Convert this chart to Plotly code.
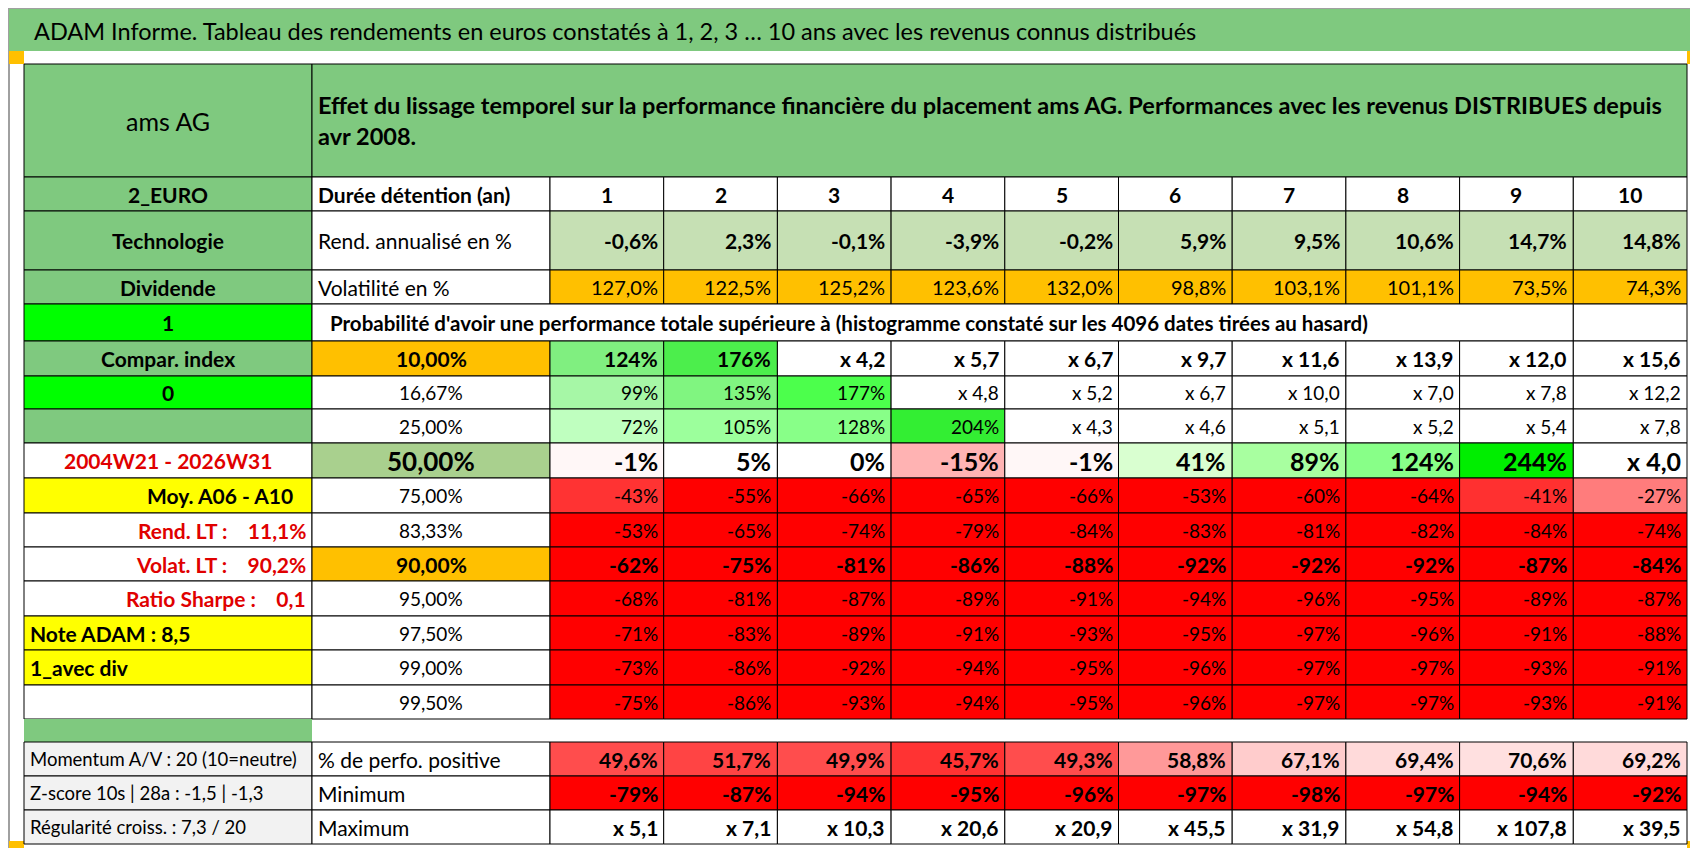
import plotly.graph_objects as go

title = "ADAM Informe. Tableau des rendements en euros constatés à 1, 2, 3 … 10 ans avec les revenus connus distribués"
header = "Effet du lissage temporel sur la performance financière du placement ams AG. Performances avec les revenus DISTRIBUES depuis<br>avr 2008."
years = ["1", "2", "3", "4", "5", "6", "7", "8", "9", "10"]
rend = ["-0,6%", "2,3%", "-0,1%", "-3,9%", "-0,2%", "5,9%", "9,5%", "10,6%", "14,7%", "14,8%"]
vol = ["127,0%", "122,5%", "125,2%", "123,6%", "132,0%", "98,8%", "103,1%", "101,1%", "73,5%", "74,3%"]
levels = ["10,00%", "16,67%", "25,00%", "50,00%", "75,00%", "83,33%", "90,00%", "95,00%", "97,50%", "99,00%", "99,50%"]
quant = [
    ["124%", "176%", "x 4,2", "x 5,7", "x 6,7", "x 9,7", "x 11,6", "x 13,9", "x 12,0", "x 15,6"],
    ["99%", "135%", "177%", "x 4,8", "x 5,2", "x 6,7", "x 10,0", "x 7,0", "x 7,8", "x 12,2"],
    ["72%", "105%", "128%", "204%", "x 4,3", "x 4,6", "x 5,1", "x 5,2", "x 5,4", "x 7,8"],
    ["-1%", "5%", "0%", "-15%", "-1%", "41%", "89%", "124%", "244%", "x 4,0"],
    ["-43%", "-55%", "-66%", "-65%", "-66%", "-53%", "-60%", "-64%", "-41%", "-27%"],
    ["-53%", "-65%", "-74%", "-79%", "-84%", "-83%", "-81%", "-82%", "-84%", "-74%"],
    ["-62%", "-75%", "-81%", "-86%", "-88%", "-92%", "-92%", "-92%", "-87%", "-84%"],
    ["-68%", "-81%", "-87%", "-89%", "-91%", "-94%", "-96%", "-95%", "-89%", "-87%"],
    ["-71%", "-83%", "-89%", "-91%", "-93%", "-95%", "-97%", "-96%", "-91%", "-88%"],
    ["-73%", "-86%", "-92%", "-94%", "-95%", "-96%", "-97%", "-97%", "-93%", "-91%"],
    ["-75%", "-86%", "-93%", "-94%", "-95%", "-96%", "-97%", "-97%", "-93%", "-91%"],
]
positive = ["49,6%", "51,7%", "49,9%", "45,7%", "49,3%", "58,8%", "67,1%", "69,4%", "70,6%", "69,2%"]
minimum = ["-79%", "-87%", "-94%", "-95%", "-96%", "-97%", "-98%", "-97%", "-94%", "-92%"]
maximum = ["x 5,1", "x 7,1", "x 10,3", "x 20,6", "x 20,9", "x 45,5", "x 31,9", "x 54,8", "x 107,8", "x 39,5"]
left_labels = ["1", "Compar. index", "0", "", "2004W21 - 2026W31", "Moy. A06 - A10", "Rend. LT :    11,1%",
               "Volat. LT :    90,2%", "Ratio Sharpe :    0,1", "Note ADAM : 8,5", "1_avec div", ""]
bottom_left = ["Momentum A/V : 20 (10=neutre)", "Z-score 10s | 28a : -1,5 | -1,3", "Régularité croiss. : 7,3 / 20"]
bottom_mid = ["% de perfo. positive", "Minimum", "Maximum"]

G = "#7FC97F"; R = "#FF0000"; W = "#FFFFFF"
qcol = [
    ["#80EF80", "#4CEE4C", W, W, W, W, W, W, W, W],
    ["#A6F7A6", "#80F580", "#4CFF4C", W, W, W, W, W, W, W],
    ["#BFFFBF", "#9CFF9C", "#88FF88", "#33EE33", W, W, W, W, W, W],
    ["#FFF7F7", W, W, "#FFB3B3", "#FFF7F7", "#D9FFD0", "#A8FFA0", "#88FF88", "#00EE00", W],
    ["#FF3333", R, R, R, R, R, R, R, "#FF3030", "#FF7C7C"],
] + [[R] * 10 for _ in range(6)]
poscol = ["#FF4D4D", "#FF4444", "#FF4D4D", "#FF3333", "#FF4D4D", "#FF9999", "#FFCCCC", "#FFDADA", "#FFE0E0", "#FFDADA"]

FONT = "Lato"
X0, X1, X2 = 16, 304, 542
CW = (1679 - X2) / 10
xs = [X2 + i * CW for i in range(11)]
Y = [56, 169, 203, 262, 296, 333, 368, 401, 435, 470, 505, 539, 573, 608, 642, 677, 711]
YB = [734, 768, 802, 836]

shapes, ann = [], []
def rect(x0, y0, x1, y1, fill, lw=1, lc="black"):
    shapes.append(dict(type="rect", xref="x", yref="y", x0=x0, y0=y0, x1=x1, y1=y1,
                       fillcolor=fill, line=dict(color=lc, width=lw), layer="below"))
def txt(x, y, s, size=17, bold=False, color="black", anchor="center"):
    if bold:
        s = "<b>" + s + "</b>"
    ann.append(dict(x=x, y=y, xref="x", yref="y", text=s, showarrow=False, xanchor=anchor,
                    yanchor="middle", font=dict(family=FONT, size=size, color=color)))
def cell(x0, x1, y0, y1, fill, s="", size=17, bold=False, color="black", align="right"):
    rect(x0, y0, x1, y1, fill)
    ym = (y0 + y1) / 2
    if align == "right":
        txt(x1 - 4, ym, s, size, bold, color, "right")
    elif align == "left":
        txt(x0 + 4, ym, s, size, bold, color, "left")
    else:
        txt((x0 + x1) / 2, ym, s, size, bold, color)

# frame and title band
rect(1, 1, 1690, 847, W, 2, "#A0A0A0")
rect(1, 1, 1690, 43, G, 0)
rect(1, 43, 16, 56, "#FFC000", 0)
rect(1679, 43, 1690, 56, "#FFC000", 0)
rect(1, 833, 16, 847, "#FFC000", 0)
rect(1679, 833, 1690, 847, "#FFC000", 0)
txt(24, 23, title, 23.5, False, "black", "left")

# header
cell(X0, X1, Y[0], Y[1], G, "ams AG", 25, False, align="center")
rect(X1, Y[0], 1679, Y[1], G)
ann.append(dict(x=X1 + 4, y=(Y[0] + Y[1]) / 2, xref="x", yref="y", text="<b>" + header + "</b>", showarrow=False,
                xanchor="left", yanchor="middle", align="left",
                font=dict(family=FONT, size=23.5, color="black")))

cell(X0, X1, Y[1], Y[2], G, "2_EURO", 21, True, align="center")
cell(X1, X2, Y[1], Y[2], W, "Durée détention (an)", 21, True, align="left")
for i in range(10):
    cell(xs[i], xs[i + 1], Y[1], Y[2], W, years[i], 21, True, align="center")
cell(X0, X1, Y[2], Y[3], G, "Technologie", 21, True, align="center")
cell(X1, X2, Y[2], Y[3], W, "Rend. annualisé en %", 21, False, align="left")
for i in range(10):
    cell(xs[i], xs[i + 1], Y[2], Y[3], "#C6E0B4", rend[i], 21, True)
cell(X0, X1, Y[3], Y[4], G, "Dividende", 21, True, align="center")
cell(X1, X2, Y[3], Y[4], W, "Volatilité en %", 21, False, align="left")
for i in range(10):
    cell(xs[i], xs[i + 1], Y[3], Y[4], "#FFC000", vol[i], 20, False)

# left column rows
lfill = ["#00FF00", G, "#00FF00", G, W, "#FFFF00", W, W, W, "#FFFF00", "#FFFF00", W]
lcolor = ["black", "black", "black", "black", "#E00000", "black", "#E00000", "#E00000", "#E00000", "black", "black", "black"]
lalign = ["center", "center", "center", "center", "center", "right", "right", "right", "right", "left", "left", "center"]
for k in range(12):
    y0, y1 = Y[4 + k], Y[5 + k]
    if k == 5:
        rect(X0, y0, X1, y1, lfill[k]); txt(X1 - 17, (y0 + y1) / 2, left_labels[k], 21, True, lcolor[k], "right")
    else:
        cell(X0, X1, y0, y1, lfill[k], left_labels[k], 21, True, lcolor[k], lalign[k])

# probability row
rect(X1, Y[4], xs[9], Y[5], W)
txt(X1 + 16, (Y[4] + Y[5]) / 2, "Probabilité d'avoir une performance totale supérieure à (histogramme constaté sur les 4096 dates tirées au hasard)", 20.5, True, "black", "left")
rect(xs[9], Y[4], xs[10], Y[5], W)

# quantile rows
for r in range(11):
    y0, y1 = Y[5 + r], Y[6 + r]
    bold = r in (0, 3, 6)
    size = 26 if r == 3 else (21 if bold else 19)
    lf = "#FFC000" if r in (0, 6) else ("#A9D08E" if r == 3 else W)
    cell(X1, X2, y0, y1, lf, levels[r], size, bold, align="center")
    for i in range(10):
        cell(xs[i], xs[i + 1], y0, y1, qcol[r][i], quant[r][i], size if r != 3 else 25, bold)

# gap
rect(X0, Y[16], X1, YB[0], G, 0)

# bottom rows
brows = [(positive, poscol), (minimum, [R] * 10), (maximum, [W] * 10)]
for b in range(3):
    y0, y1 = YB[b], YB[b + 1]
    cell(X0, X1, y0, y1, "#F2F2F2", bottom_left[b], 18.5, False, align="left")
    cell(X1, X2, y0, y1, W, bottom_mid[b], 21, False, align="left")
    vals, cols = brows[b]
    for i in range(10):
        cell(xs[i], xs[i + 1], y0, y1, cols[i], vals[i], 21, True)

fig = go.Figure()
fig.update_layout(width=1698, height=848, margin=dict(l=0, r=0, t=0, b=0),
                  paper_bgcolor="white", plot_bgcolor="white", shapes=shapes, annotations=ann,
                  xaxis=dict(range=[0, 1698], visible=False, fixedrange=True),
                  yaxis=dict(range=[848, 0], visible=False, fixedrange=True), showlegend=False)
fig.write_html("out.html", config={"displayModeBar": False})
